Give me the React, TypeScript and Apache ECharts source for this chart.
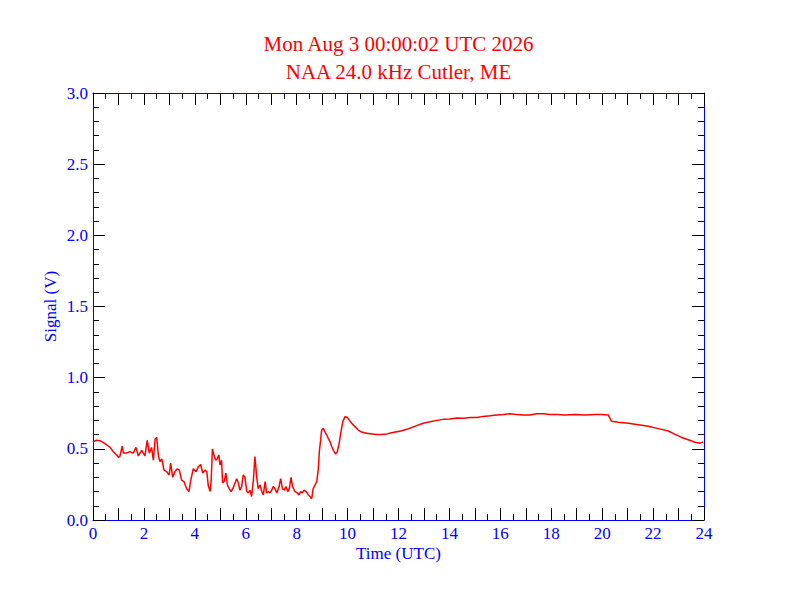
import { useRef, useEffect } from "react";
import * as echarts from "echarts";

// hours (UTC) and signal (V)
const hours = [
  0.0, 0.14, 0.27, 0.41, 0.54, 0.67, 0.8, 0.93, 1.0, 1.06, 1.15, 1.19, 1.32,
  1.45, 1.58, 1.69, 1.78, 1.91, 2.04, 2.13, 2.21, 2.3, 2.37, 2.44, 2.5, 2.57,
  2.63, 2.7, 2.79, 2.89, 2.99, 3.05, 3.13, 3.22, 3.31, 3.39, 3.48, 3.57, 3.68,
  3.77, 3.84, 3.94, 4.05, 4.14, 4.23, 4.31, 4.4, 4.47, 4.53, 4.6, 4.64, 4.69,
  4.75, 4.82, 4.88, 4.94, 4.99, 5.05, 5.09, 5.15, 5.22, 5.28, 5.35, 5.42, 5.49,
  5.55, 5.64, 5.71, 5.77, 5.84, 5.9, 5.97, 6.04, 6.1, 6.17, 6.23, 6.3, 6.36,
  6.43, 6.49, 6.56, 6.63, 6.69, 6.76, 6.82, 6.89, 6.95, 7.02, 7.08, 7.15, 7.22,
  7.31, 7.37, 7.44, 7.52, 7.58, 7.65, 7.71, 7.78, 7.84, 7.93, 8.03, 8.09, 8.16,
  8.22, 8.29, 8.37, 8.46, 8.52, 8.59, 8.65, 8.72, 8.79, 8.85, 8.89, 8.94, 8.98,
  9.05, 9.11, 9.18, 9.24, 9.31, 9.38, 9.44, 9.52, 9.6, 9.68, 9.73, 9.81, 9.9,
  9.99, 10.07, 10.16, 10.29, 10.42, 10.55, 10.75, 10.95, 11.14, 11.34, 11.54,
  11.73, 11.93, 12.13, 12.32, 12.52, 12.71, 12.97, 13.24, 13.5, 13.76, 14.02,
  14.29, 14.55, 14.81, 15.07, 15.33, 15.6, 15.86, 16.12, 16.38, 16.64, 16.9,
  17.17, 17.43, 17.69, 17.95, 18.21, 18.54, 18.93, 19.33, 19.72, 19.98, 20.24,
  20.31, 20.37, 20.63, 21.03, 21.42, 21.81, 22.2, 22.6, 22.86, 23.12, 23.38,
  23.65, 23.84, 23.97,
];

const signal = [
  0.55, 0.56, 0.557, 0.543, 0.527, 0.51, 0.48, 0.457, 0.44, 0.45, 0.52, 0.47,
  0.47, 0.48, 0.47, 0.51, 0.45, 0.49, 0.45, 0.56, 0.47, 0.51, 0.42, 0.567, 0.58,
  0.45, 0.41, 0.43, 0.35, 0.34, 0.316, 0.4, 0.3, 0.34, 0.36, 0.35, 0.28, 0.27,
  0.22, 0.2, 0.28, 0.36, 0.34, 0.375, 0.39, 0.33, 0.35, 0.34, 0.24, 0.2, 0.27,
  0.5, 0.457, 0.42, 0.43, 0.457, 0.386, 0.42, 0.26, 0.27, 0.33, 0.246, 0.22, 0.2,
  0.22, 0.246, 0.29, 0.26, 0.21, 0.235, 0.316, 0.3, 0.2, 0.19, 0.21, 0.165, 0.28,
  0.445, 0.3, 0.22, 0.246, 0.2, 0.176, 0.27, 0.19, 0.2, 0.19, 0.21, 0.235, 0.22,
  0.19, 0.235, 0.29, 0.22, 0.21, 0.235, 0.2, 0.22, 0.3, 0.235, 0.2, 0.19, 0.176,
  0.2, 0.19, 0.21, 0.2, 0.176, 0.165, 0.15, 0.22, 0.246, 0.27, 0.36, 0.48, 0.56,
  0.63, 0.644, 0.62, 0.597, 0.574, 0.55, 0.515, 0.49, 0.464, 0.48, 0.55, 0.61,
  0.69, 0.726, 0.72, 0.7, 0.68, 0.656, 0.632, 0.618, 0.61, 0.605, 0.6, 0.6,
  0.605, 0.613, 0.62, 0.627, 0.637, 0.65, 0.663, 0.68, 0.69, 0.7, 0.707, 0.71,
  0.717, 0.715, 0.72, 0.72, 0.728, 0.733, 0.738, 0.742, 0.747, 0.742, 0.738,
  0.738, 0.747, 0.747, 0.742, 0.742, 0.738, 0.742, 0.738, 0.742, 0.742, 0.738,
  0.714, 0.693, 0.686, 0.68, 0.67, 0.658, 0.642, 0.625, 0.602, 0.58, 0.564,
  0.546, 0.54, 0.548,
];

const titleLines = ["Mon Aug 3 00:00:02 UTC 2026", "NAA 24.0 kHz Cutler, ME"];

const BLUE = "#0000ff";
const RED = "#ff0000";
const SERIF = "'Liberation Serif', 'DejaVu Serif', serif";

const App = () => {
  const chartRef = useRef(null);

  useEffect(() => {
    document.body.style.margin = "0";
    if (!chartRef.current) return;
    const chart = echarts.init(chartRef.current, null, { renderer: "svg" });

    const frameAxis = {
      axisLine: { show: true, onZero: false, lineStyle: { color: BLUE, width: 1 } },
      axisTick: { show: true, inside: true, length: 12, lineStyle: { color: "#000" } },
      minorTick: { show: true, length: 6, lineStyle: { color: "#000" } },
      splitLine: { show: false },
      minorSplitLine: { show: false },
    };

    const xBase = { type: "value", min: 0, max: 24, interval: 1, ...frameAxis };
    const yBase = { type: "value", min: 0, max: 3, interval: 0.5, ...frameAxis };

    const option = {
      animation: false,
      backgroundColor: "#fff",
      title: {
        text: titleLines.join("\n"),
        left: 398.5,
        top: 30,
        padding: 0,
        textAlign: "center",
        textStyle: {
          color: RED,
          fontFamily: SERIF,
          fontSize: 21,
          fontWeight: "normal",
          lineHeight: 28,
        },
      },
      grid: { left: 93, right: 88, top: 93, bottom: 92, containLabel: false },
      xAxis: [
        {
          ...xBase,
          position: "bottom",
          minorTick: { ...frameAxis.minorTick, splitNumber: 2 },
          axisLabel: {
            color: BLUE,
            fontFamily: SERIF,
            fontSize: 17,
            margin: 5,
            formatter: (v: number) => (v % 2 === 0 ? String(v) : ""),
          },
          name: "Time (UTC)",
          nameLocation: "middle",
          nameGap: 25,
          nameMoveOverlap: false,
          nameTextStyle: { color: BLUE, fontFamily: SERIF, fontSize: 17 },
        },
        {
          ...xBase,
          position: "top",
          minorTick: { ...frameAxis.minorTick, splitNumber: 2 },
          axisLabel: { show: false },
        },
      ],
      yAxis: [
        {
          ...yBase,
          position: "left",
          minorTick: { ...frameAxis.minorTick, splitNumber: 5 },
          axisLabel: {
            color: BLUE,
            fontFamily: SERIF,
            fontSize: 17,
            margin: 5,
            formatter: (v: number) => v.toFixed(1),
          },
          name: "Signal (V)",
          nameLocation: "middle",
          nameGap: 34,
          nameMoveOverlap: false,
          nameTextStyle: { color: BLUE, fontFamily: SERIF, fontSize: 17 },
        },
        {
          ...yBase,
          position: "right",
          minorTick: { ...frameAxis.minorTick, splitNumber: 5 },
          axisLabel: { show: false },
        },
      ],
      series: [
        {
          name: "Signal",
          type: "line",
          xAxisIndex: 0,
          yAxisIndex: 0,
          data: hours.map((h, i) => [h, signal[i]]),
          showSymbol: false,
          symbol: "none",
          lineStyle: { color: RED, width: 1.5 },
        },
      ],
    };

    chart.setOption(option);

    return () => {
      chart.dispose();
    };
  }, []);

  return <div ref={chartRef} style={{ width: "792px", height: "612px" }} />;
};

export default App;
